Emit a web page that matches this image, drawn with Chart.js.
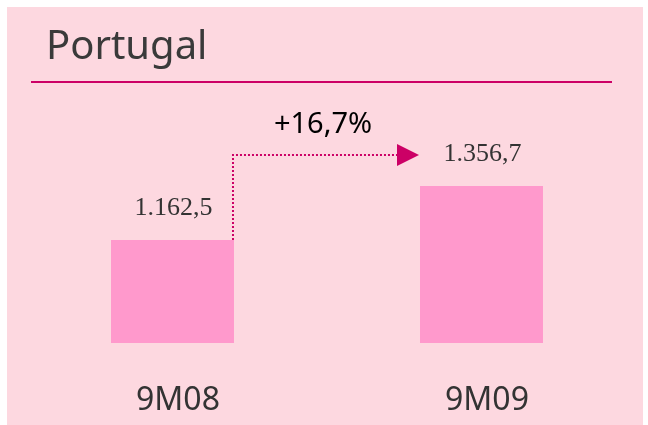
<!DOCTYPE html>
<html lang="pt">
<head>
  <meta charset="UTF-8" />
  <title>Portugal</title>
  <script src="https://cdn.jsdelivr.net/npm/chart.js"></script>
  <style>
    html, body { margin: 0; padding: 0; background: #ffffff; }
    #wrap { width: 648px; height: 425px; }
  </style>
</head>
<body>
  <div id="wrap"><canvas id="grafico" width="648" height="425"></canvas></div>

  <script>
    // dados
    const titulo = "Portugal";
    const periodos = ["9M08", "9M09"];
    const valores = [1162.5, 1356.7];

    const rosaFundo = "#fdd8e0";
    const rosaBarra = "#ff99cc";
    const magenta = "#cc0066";

    function formatar(v) {
      const partes = v.toFixed(1).split(".");
      const inteiro = partes[0].replace(/\B(?=(\d{3})+(?!\d))/g, ".");
      return inteiro + "," + partes[1];
    }

    const variacao = (valores[1] / valores[0] - 1) * 100;
    const textoVariacao = "+" + variacao.toFixed(1).replace(".", ",") + "%";

    const fundo = {
      id: "fundo",
      beforeDraw(chart) {
        const ctx = chart.ctx;
        ctx.save();
        ctx.fillStyle = rosaFundo;
        ctx.fillRect(7, 7, 636, 418);
        ctx.restore();
      }
    };

    const anotacoes = {
      id: "anotacoes",
      afterDatasetsDraw(chart) {
        const ctx = chart.ctx;
        const barras = chart.getDatasetMeta(0).data;
        ctx.save();

        // titulo e linha
        ctx.fillStyle = "#3a3a3a";
        ctx.font = "40px 'Noto Sans'";
        ctx.textAlign = "left";
        ctx.textBaseline = "alphabetic";
        ctx.fillText(titulo, 46, 59);
        ctx.fillStyle = magenta;
        ctx.fillRect(31, 81, 581, 2);

        // valores sobre as barras
        ctx.fillStyle = "#333333";
        ctx.font = "26px 'Liberation Serif'";
        ctx.textAlign = "center";
        barras.forEach((b, i) => {
          ctx.fillText(formatar(valores[i]), b.x + 1, b.y - 25);
        });

        // seta pontilhada
        const b1 = barras[0], b2 = barras[1];
        const xIni = b1.x + b1.width / 2 - 1;
        const yLinha = b2.y - 31;
        const xSeta = b2.x - b2.width / 2 - 23;
        ctx.strokeStyle = magenta;
        ctx.lineWidth = 2;
        ctx.setLineDash([2, 2]);
        ctx.beginPath();
        ctx.moveTo(xIni, b1.y);
        ctx.lineTo(xIni, yLinha);
        ctx.lineTo(xSeta, yLinha);
        ctx.stroke();
        ctx.setLineDash([]);
        ctx.fillStyle = magenta;
        ctx.beginPath();
        ctx.moveTo(xSeta, yLinha - 11);
        ctx.lineTo(xSeta + 22, yLinha);
        ctx.lineTo(xSeta, yLinha + 11);
        ctx.closePath();
        ctx.fill();

        // variacao
        ctx.fillStyle = "#000000";
        ctx.font = "29px 'Noto Sans'";
        ctx.textAlign = "center";
        ctx.fillText(textoVariacao, (b1.x + b2.x) / 2 - 4, 133);

        ctx.restore();
      }
    };

    new Chart(document.getElementById("grafico"), {
      type: "bar",
      data: {
        labels: periodos,
        datasets: [{
          data: valores,
          backgroundColor: rosaBarra,
          borderWidth: 0,
          barPercentage: 0.398,
          categoryPercentage: 1
        }]
      },
      options: {
        responsive: false,
        animation: false,
        events: [],
        layout: { padding: { left: 18, right: 12, top: 101, bottom: 0 } },
        plugins: {
          legend: { display: false },
          tooltip: { enabled: false },
          title: { display: false }
        },
        scales: {
          x: {
            grid: { display: false, drawTicks: false },
            border: { display: false },
            afterFit(scale) { scale.height = 82; },
            ticks: {
              color: "#333333",
              font: { family: "'Noto Sans'", size: 32 },
              padding: 39,
              labelOffset: 5.5,
              maxRotation: 0
            }
          },
          y: {
            display: false,
            min: 792,
            max: 1662
          }
        }
      },
      plugins: [fundo, anotacoes]
    });
  </script>
</body>
</html>
